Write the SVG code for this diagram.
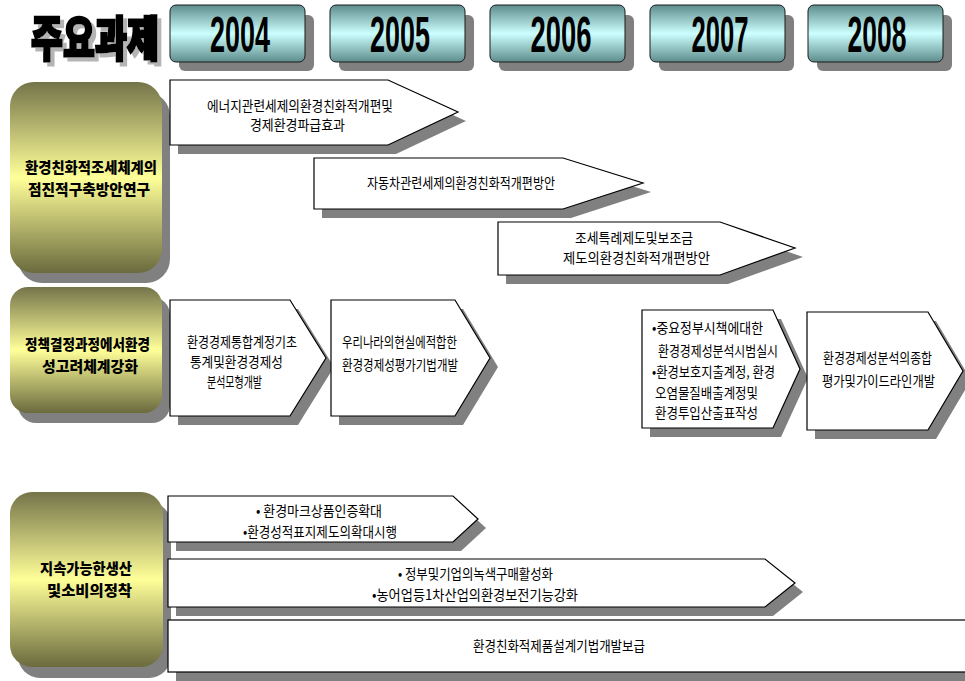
<svg xmlns="http://www.w3.org/2000/svg" width="965" height="681" viewBox="0 0 965 681">
  <defs>
    <linearGradient id="yearFill" x1="0" y1="0" x2="0" y2="1">
      <stop offset="0" stop-color="#5e8c8c"/>
      <stop offset="0.5" stop-color="#ccffff"/>
      <stop offset="1" stop-color="#5e8c8c"/>
    </linearGradient>
    <linearGradient id="themeFill" x1="0" y1="0" x2="0" y2="1">
      <stop offset="0" stop-color="#74744a"/>
      <stop offset="0.5" stop-color="#ffff99"/>
      <stop offset="1" stop-color="#6a6a3e"/>
    </linearGradient>
    <!-- light grey drop shadow for the heading -->
    <filter id="titleShadow" x="-5%" y="-10%" width="115%" height="130%">
      <feOffset in="SourceAlpha" dx="4" dy="4" result="off"/>
      <feFlood flood-color="#b4b4b4"/>
      <feComposite in2="off" operator="in" result="shade"/>
      <feMerge>
        <feMergeNode in="shade"/>
        <feMergeNode in="SourceGraphic"/>
      </feMerge>
    </filter>
    <style>
      .shadow { fill: #808080; }
      .year { fill: url(#yearFill); stroke: #1a1a1a; stroke-width: 1; }
      .yeartxt { font-family: "Liberation Sans", Arial, sans-serif; font-weight: bold; font-size: 50px; fill: #000; text-anchor: middle; }
      .theme { fill: url(#themeFill); stroke: none; }
      .themetxt { font-family: "Noto Sans CJK KR", "Noto Sans", sans-serif; font-weight: 900; font-size: 15px; fill: #000; }
      .box { fill: #fff; stroke: #000; stroke-width: 1.2; }
      .t { font-family: "Noto Sans CJK KR", "Noto Sans", sans-serif; font-weight: 400; font-size: 14px; fill: #000; }
      .title { font-family: "Noto Sans CJK KR", "Noto Sans", sans-serif; font-weight: 900; font-size: 48px; fill: #000; stroke: #000; stroke-width: 2.5; }
    </style>
  </defs>

  <!-- heading -->
  <g id="title" filter="url(#titleShadow)">
    <text class="title" x="31" y="56" textLength="128" lengthAdjust="spacingAndGlyphs">주요과제</text>
  </g>

  <!-- year buttons -->
  <g id="y2004">
    <rect class="shadow" x="179" y="15" width="135" height="56" rx="6"/>
    <rect class="year" x="170" y="5" width="135" height="57" rx="6"/>
    <text class="yeartxt" x="240" y="52" textLength="60" lengthAdjust="spacingAndGlyphs">2004</text>
  </g>
  <g id="y2005">
    <rect class="shadow" x="339" y="15" width="135" height="56" rx="6"/>
    <rect class="year" x="330" y="5" width="135" height="57" rx="6"/>
    <text class="yeartxt" x="400" y="52" textLength="60" lengthAdjust="spacingAndGlyphs">2005</text>
  </g>
  <g id="y2006">
    <rect class="shadow" x="499" y="15" width="135" height="56" rx="6"/>
    <rect class="year" x="490" y="5" width="135" height="57" rx="6"/>
    <text class="yeartxt" x="561" y="52" textLength="61" lengthAdjust="spacingAndGlyphs">2006</text>
  </g>
  <g id="y2007">
    <rect class="shadow" x="659" y="15" width="135" height="56" rx="6"/>
    <rect class="year" x="650" y="5" width="135" height="57" rx="6"/>
    <text class="yeartxt" x="720" y="52" textLength="57" lengthAdjust="spacingAndGlyphs">2007</text>
  </g>
  <g id="y2008">
    <rect class="shadow" x="817" y="15" width="135" height="56" rx="6"/>
    <rect class="year" x="808" y="5" width="135" height="57" rx="6"/>
    <text class="yeartxt" x="877" y="52" textLength="59" lengthAdjust="spacingAndGlyphs">2008</text>
  </g>

  <!-- theme blocks -->
  <g id="theme1">
    <rect class="shadow" x="18" y="92" width="152" height="191" rx="24"/>
    <rect class="theme" x="10" y="82" width="152" height="191" rx="24"/>
    <text class="themetxt" x="25" y="173" textLength="132" lengthAdjust="spacingAndGlyphs">환경친화적조세체계의</text>
    <text class="themetxt" x="28" y="195" textLength="122" lengthAdjust="spacingAndGlyphs">점진적구축방안연구</text>
  </g>
  <g id="theme2">
    <rect class="shadow" x="18" y="297" width="152" height="126" rx="18"/>
    <rect class="theme" x="10" y="287" width="152" height="126" rx="18"/>
    <text class="themetxt" x="25" y="350" textLength="125" lengthAdjust="spacingAndGlyphs">정책결정과정에서환경</text>
    <text class="themetxt" x="42" y="372" textLength="96" lengthAdjust="spacingAndGlyphs">성고려체계강화</text>
  </g>
  <g id="theme3">
    <rect class="shadow" x="18" y="502" width="153" height="176" rx="22"/>
    <rect class="theme" x="10" y="492" width="153" height="175" rx="22"/>
    <text class="themetxt" x="40" y="574" textLength="92" lengthAdjust="spacingAndGlyphs">지속가능한생산</text>
    <text class="themetxt" x="47" y="596" textLength="85" lengthAdjust="spacingAndGlyphs">및소비의정착</text>
  </g>

  <!-- task arrows -->
  <g id="connectors">
    <g id="task1">
      <polygon class="shadow" points="178,89 396,89 466,121 396,154 178,154"/>
      <polygon class="box" points="170,80 388,80 458,112 388,145 170,145"/>
      <text class="t" x="207" y="111" textLength="186" lengthAdjust="spacingAndGlyphs">에너지관련세제의환경친화적개편및</text>
      <text class="t" x="250" y="130" textLength="95" lengthAdjust="spacingAndGlyphs">경제환경파급효과</text>
    </g>
    <g id="task2">
      <polygon class="shadow" points="322,167 571,167 651,192 571,218 322,218"/>
      <polygon class="box" points="314,158 563,158 643,183 563,209 314,209"/>
      <text class="t" x="367" y="188" textLength="188" lengthAdjust="spacingAndGlyphs">자동차관련세제의환경친화적개편방안</text>
    </g>
    <g id="task3">
      <polygon class="shadow" points="506,231 728,231 803,257 728,284 506,284"/>
      <polygon class="box" points="498,222 720,222 795,248 720,275 498,275"/>
      <text class="t" x="575" y="243" textLength="118" lengthAdjust="spacingAndGlyphs">조세특례제도및보조금</text>
      <text class="t" x="563" y="263" textLength="147" lengthAdjust="spacingAndGlyphs">제도의환경친화적개편방안</text>
    </g>
    <g id="task4">
      <polygon class="shadow" points="178,309 298,309 334,367 298,425 178,425"/>
      <polygon class="box" points="170,300 290,300 326,358 290,416 170,416"/>
      <text class="t" x="187" y="347" textLength="110" lengthAdjust="spacingAndGlyphs">환경경제통합계정기초</text>
      <text class="t" x="190" y="367" textLength="93" lengthAdjust="spacingAndGlyphs">통계및환경경제성</text>
      <text class="t" x="207" y="387" textLength="55" lengthAdjust="spacingAndGlyphs">분석모형개발</text>
    </g>
    <g id="task5">
      <polygon class="shadow" points="339,309 463,309 498,367 463,425 339,425"/>
      <polygon class="box" points="331,300 455,300 490,358 455,416 331,416"/>
      <text class="t" x="342" y="347" textLength="115" lengthAdjust="spacingAndGlyphs">우리나라의현실에적합한</text>
      <text class="t" x="342" y="370" textLength="116" lengthAdjust="spacingAndGlyphs">환경경제성평가기법개발</text>
    </g>
    <g id="task6">
      <polygon class="shadow" points="650,319 781,319 808,378 781,437 650,437"/>
      <polygon class="box" points="642,310 773,310 800,369 773,428 642,428"/>
      <text class="t" x="652" y="333" textLength="111" lengthAdjust="spacingAndGlyphs">•중요정부시책에대한</text>
      <text class="t" x="658" y="356" textLength="120" lengthAdjust="spacingAndGlyphs">환경경제성분석시범실시</text>
      <text class="t" x="652" y="377" textLength="123" lengthAdjust="spacingAndGlyphs">•환경보호지출계정, 환경</text>
      <text class="t" x="655" y="398" textLength="103" lengthAdjust="spacingAndGlyphs">오염물질배출계정및</text>
      <text class="t" x="655" y="418" textLength="103" lengthAdjust="spacingAndGlyphs">환경투입산출표작성</text>
    </g>
    <g id="task7">
      <polygon class="shadow" points="815,321 936,321 971,380 936,439 815,439"/>
      <polygon class="box" points="807,312 928,312 963,371 928,430 807,430"/>
      <text class="t" x="823" y="363" textLength="109" lengthAdjust="spacingAndGlyphs">환경경제성분석의종합</text>
      <text class="t" x="822" y="386" textLength="113" lengthAdjust="spacingAndGlyphs">평가및가이드라인개발</text>
    </g>
    <g id="task8">
      <polygon class="shadow" points="176,505 461,505 486,528 461,551 176,551"/>
      <polygon class="box" points="168,496 453,496 478,519 453,542 168,542"/>
      <text class="t" x="256" y="516" textLength="126" lengthAdjust="spacingAndGlyphs">• 환경마크상품인증확대</text>
      <text class="t" x="243" y="537" textLength="154" lengthAdjust="spacingAndGlyphs">•환경성적표지제도의확대시행</text>
    </g>
    <g id="task9">
      <polygon class="shadow" points="176,568 773,568 803,592 773,616 176,616"/>
      <polygon class="box" points="168,559 765,559 795,583 765,607 168,607"/>
      <text class="t" x="398" y="579" textLength="155" lengthAdjust="spacingAndGlyphs">• 정부및기업의녹색구매활성화</text>
      <text class="t" x="372" y="600" textLength="206" lengthAdjust="spacingAndGlyphs">•농어업등1차산업의환경보전기능강화</text>
    </g>
    <g id="task10">
      <rect class="shadow" x="176" y="629" width="800" height="52"/>
      <rect class="box" x="168" y="620" width="810" height="52"/>
      <text class="t" x="473" y="651" textLength="172" lengthAdjust="spacingAndGlyphs">환경친화적제품설계기법개발보급</text>
    </g>
  </g>
</svg>
